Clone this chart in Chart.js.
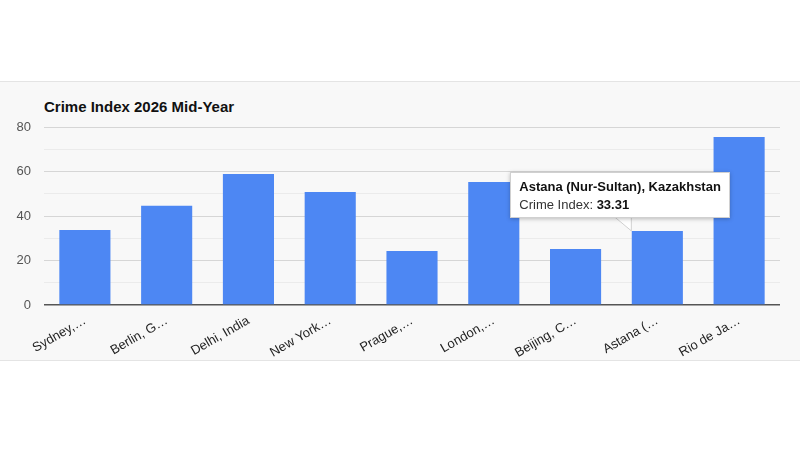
<!DOCTYPE html>
<html>
<head>
<meta charset="utf-8">
<script src="https://cdn.jsdelivr.net/npm/chart.js@4/dist/chart.umd.min.js"></script>
<style>
  html, body { margin:0; padding:0; background:#ffffff; }
  body { width:800px; height:450px; position:relative; overflow:hidden; font-family:'Liberation Sans', Arial, sans-serif; }
  #card { position:absolute; left:0; top:81px; width:800px; height:278px; background:#f8f8f8; border-top:1px solid #e4e4e4; border-bottom:1px solid #e4e4e4; }
  #title { position:absolute; left:44px; top:98px; font-size:15px; font-weight:bold; color:#111; white-space:nowrap; }
  #wrap { position:absolute; left:0; top:0; width:800px; height:450px; }
  #tip { position:absolute; background:#fff; border:1px solid #d0d0d0; box-shadow:0 1px 4px rgba(0,0,0,0.25); padding:6px 8px 5px 8px; font-size:13px; color:#111; white-space:nowrap; display:none; }
  #tip .t { font-weight:bold; margin-bottom:3px; }
  #tip .b { color:#333; }
  #tip .b strong { color:#111; }
  #caret { position:absolute; left:0; top:0; width:800px; height:450px; pointer-events:none; }
</style>
</head>
<body>
<div id="card"></div>
<div id="title">Crime Index 2026 Mid-Year</div>
<div id="wrap"><canvas id="c" width="800" height="450"></canvas></div>
<svg id="caret"><polygon id="tri" points="0,0 0,0 0,0" fill="#fff" stroke="#d0d0d0" stroke-width="1"/></svg>
<div id="tip"></div>
<script>
const cities = ["Sydney, Australia", "Berlin, Germany", "Delhi, India", "New York, NY, United States", "Prague, Czech Republic", "London, United Kingdom", "Beijing, China", "Astana (Nur-Sultan), Kazakhstan", "Rio de Janeiro, Brazil"];
const tickLabels = ["Sydney,…", "Berlin, G…", "Delhi, India", "New York…", "Prague,…", "London,…", "Beijing, C…", "Astana (…", "Rio de Ja…"];
const crimeIndex = [33.7, 44.6, 58.9, 50.8, 24.3, 55.3, 25.2, 33.31, 75.5];
const seriesName = "Crime Index";
const highlighted = 7;

const chart = new Chart(document.getElementById('c'), {
  type: 'bar',
  data: {
    labels: cities,
    datasets: [{ label: seriesName, data: crimeIndex, backgroundColor: '#4d87f3', categoryPercentage: 0.625, barPercentage: 1.0 }]
  },
  options: {
    responsive: false,
    animation: false,
    layout: { padding: { top: 127, right: 20, left: 0, bottom: 0 } },
    plugins: { legend: { display: false }, tooltip: { enabled: false } },
    scales: {
      x: {
        grid: { display: false },
        border: { display: false },
        ticks: {
          maxRotation: 30, minRotation: 30, autoSkip: false, padding: 0,
          color: '#222', font: { family: "'Liberation Sans', Arial", size: 13 },
          callback: (v, i) => tickLabels[i]
        },
        afterFit: s => { s.height = 145; }
      },
      y: {
        min: 0, max: 80,
        border: { display: false },
        grid: {
          drawTicks: false,
          color: ctx => ctx.tick.value === 0 ? '#555' : (ctx.tick.value % 20 === 0 ? '#d6d6d6' : '#ebebeb'),
          lineWidth: ctx => ctx.tick.value === 0 ? 1.5 : 1
        },
        ticks: {
          stepSize: 10, padding: 13,
          color: '#555', font: { family: "'Liberation Sans', Arial", size: 13 },
          callback: v => v % 20 === 0 ? v : ''
        },
        afterFit: s => { s.width = 44; }
      }
    }
  }
});

(function showTip() {
  const el = chart.getDatasetMeta(0).data[highlighted];
  const x = el.x, y = el.y;
  const tip = document.getElementById('tip');
  tip.innerHTML = '<div class="t">' + cities[highlighted] + '</div><div class="b">' + seriesName + ': <strong>' + crimeIndex[highlighted] + '</strong></div>';
  tip.style.display = 'block';
  tip.style.left = (x - 147) + 'px';
  tip.style.top = (y - 59) + 'px';
  const tri = document.getElementById('tri');
  tri.setAttribute('points', (x - 44) + ',' + (y - 15) + ' ' + (x - 26) + ',' + (y) + ' ' + (x - 26) + ',' + (y - 15));
})();
</script>
</body>
</html>
